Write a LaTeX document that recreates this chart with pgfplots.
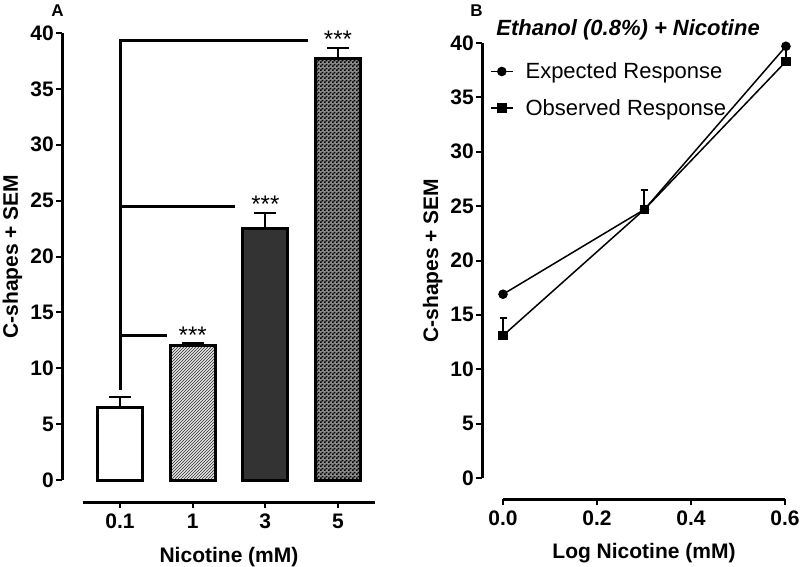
\documentclass[border=0pt]{standalone}
\usepackage{fontspec}
\setmainfont{Liberation Sans}
\usepackage{pgfplots}
\pgfplotsset{compat=1.18}
\usetikzlibrary{patterns}
\pgfdeclarepatternformonly{finecheck}{\pgfqpoint{0pt}{0pt}}{\pgfqpoint{4pt}{4pt}}{\pgfqpoint{4pt}{4pt}}{%
  \pgfpathrectangle{\pgfqpoint{0pt}{0pt}}{\pgfqpoint{2pt}{2pt}}%
  \pgfpathrectangle{\pgfqpoint{2pt}{2pt}}{\pgfqpoint{2pt}{2pt}}%
  \pgfusepath{fill}}
\pgfdeclarepatternformonly{finehatch}{\pgfqpoint{-1pt}{-1pt}}{\pgfqpoint{4pt}{4pt}}{\pgfqpoint{3pt}{3pt}}{%
  \pgfsetlinewidth{1pt}%
  \pgfpathmoveto{\pgfqpoint{0pt}{0pt}}%
  \pgfpathlineto{\pgfqpoint{3.1pt}{3.1pt}}%
  \pgfusepath{stroke}}
\definecolor{darkbar}{HTML}{333333}
\definecolor{hatchgray}{HTML}{505050}
\definecolor{checkbase}{HTML}{8C8C8C}
\newcommand{\bigfont}{\fontsize{21}{25}\selectfont}

\begin{document}
\begin{tikzpicture}[x=1pt,y=1pt]
\useasboundingbox (0,0) rectangle (800,-567);
\pgfplotsset{
  every axis/.append style={
    scale only axis, clip=false,
    tick align=outside, major tick length=6pt,
    tick style={line width=2pt, black},
    axis line style={line width=3pt},
    tick label style={font=\bigfont\bfseries},
    yticklabel style={inner sep=2pt},
    /pgf/number format/assume math mode=true,
    label style={font=\bigfont\bfseries},
  }
}
% ---------------- Panel A ----------------
\begin{axis}[at={(62pt,-480pt)}, anchor=south west, width=313pt, height=447pt,
  xmin=-0.8, xmax=3.51, ymin=0, ymax=40,
  axis x line=none, axis y line*=left, ytick={0,5,...,40},
  ylabel={C-shapes + SEM},
  ylabel style={at={(axis description cs:-0.1406,0.5)}, anchor=base}]
\addplot[ybar, bar width=45pt, bar shift=0pt, draw=black, line width=3pt, fill=white,
  error bars/.cd, y dir=plus, y explicit, error bar style={line width=2pt},
  error mark options={rotate=90, line width=2pt, mark size=11pt}]
  coordinates {(0,6.5) +- (0,0.9)};
\addplot[ybar, bar width=45pt, bar shift=0pt, draw=black, line width=3pt, pattern=finehatch, pattern color=hatchgray,
  error bars/.cd, y dir=plus, y explicit, error bar style={line width=2pt},
  error mark options={rotate=90, line width=2pt, mark size=11pt}]
  coordinates {(1,12.0) +- (0,0.3)};
\addplot[ybar, bar width=45pt, bar shift=0pt, draw=black, line width=3pt, fill=darkbar,
  error bars/.cd, y dir=plus, y explicit, error bar style={line width=2pt},
  error mark options={rotate=90, line width=2pt, mark size=11pt}]
  coordinates {(2,22.55) +- (0,1.35)};
\addplot[ybar, bar width=45pt, bar shift=0pt, draw=black, line width=3pt, fill=checkbase,
  postaction={pattern=finecheck, pattern color=black},
  error bars/.cd, y dir=plus, y explicit, error bar style={line width=2pt},
  error mark options={rotate=90, line width=2pt, mark size=11pt}]
  coordinates {(3,37.7) +- (0,0.95)};
% significance brackets
\addplot[black, line width=3pt] coordinates {(0,8.05) (0,39.3) (2.59,39.3)};
\addplot[black, line width=3pt] coordinates {(0,24.5) (1.58,24.5)};
\addplot[black, line width=3pt] coordinates {(0,12.9) (0.65,12.9)};
\node[anchor=base, font=\fontsize{24}{28}\selectfont] at (axis cs:1,12.2) {***};
\node[anchor=base, font=\fontsize{24}{28}\selectfont] at (axis cs:2,23.9) {***};
\node[anchor=base, font=\fontsize{24}{28}\selectfont] at (axis cs:3,38.7) {***};
\end{axis}
\begin{axis}[at={(83pt,-502pt)}, anchor=south west, width=292pt, height=1pt,
  xmin=-0.51, xmax=3.51, ymin=0, ymax=1,
  axis y line=none, axis x line*=bottom,
  xtick={0,1,2,3}, xticklabels={0.1,1,3,5},
  xticklabel style={anchor=base, yshift=-20pt},
  xlabel={Nicotine (mM)},
  xlabel style={at={(axis description cs:0.5,0)}, anchor=base, yshift=-60pt}]
\addplot[draw=none] coordinates {(0,0)};
\end{axis}
% ---------------- Panel B ----------------
\begin{axis}[at={(482pt,-478pt)}, anchor=south west, width=303pt, height=435pt,
  xmin=-0.0447, xmax=0.6, ymin=0, ymax=40,
  axis x line=none, axis y line*=left, ytick={0,5,...,40},
  ylabel={C-shapes + SEM},
  ylabel style={at={(axis description cs:-0.145,0.5)}, anchor=base},
  title={Ethanol (0.8\%) + Nicotine},
  title style={at={(axis description cs:0.482,1.004)}, anchor=base, font=\fontsize{22}{26}\selectfont\bfseries\itshape},
  legend cell align=left,
  legend image code/.code={\draw[mark repeat=2,mark phase=2,#1] plot coordinates {(0pt,0pt) (11pt,0pt) (22pt,0pt)};},
  legend style={draw=none, fill=none, at={(axis description cs:0.026,0.955)}, anchor=north west,
    font=\fontsize{22}{26}\selectfont, inner sep=0pt, row sep=19pt,
    nodes={inner sep=0pt}, column sep=12pt}]
\addplot[black, line width=1.5pt, mark=*, mark size=4pt] coordinates {(0,16.9) (0.301,24.7) (0.602,39.7)};
\addlegendentry{Expected Response}
\addplot[black, line width=1.5pt, mark=square*, mark size=4pt,
  error bars/.cd, y dir=plus, y explicit, error bar style={line width=2pt},
  error mark options={rotate=90, line width=2.5pt, mark size=3.5pt}]
  coordinates {(0,13.1) +- (0,1.6) (0.301,24.7) +- (0,1.8) (0.602,38.3) +- (0,1.6)};
\addlegendentry{Observed Response}
\end{axis}
\begin{axis}[at={(503pt,-499pt)}, anchor=south west, width=282pt, height=1pt,
  xmin=0, xmax=0.6, ymin=0, ymax=1,
  axis y line=none, axis x line*=bottom,
  xtick={0,0.2,0.4,0.6},
  xticklabel style={anchor=base, yshift=-20pt, /pgf/number format/.cd, fixed, fixed zerofill, precision=1},
  xlabel={Log Nicotine (mM)},
  xlabel style={at={(axis description cs:0.5,0)}, anchor=base, yshift=-59pt}]
\addplot[draw=none] coordinates {(0,0)};
\end{axis}
% panel letters
\node[anchor=base, font=\fontsize{17}{20}\selectfont\bfseries] at (57.5,-17) {A};
\node[anchor=base, font=\fontsize{17}{20}\selectfont\bfseries] at (476.5,-17) {B};
\end{tikzpicture}
\end{document}
